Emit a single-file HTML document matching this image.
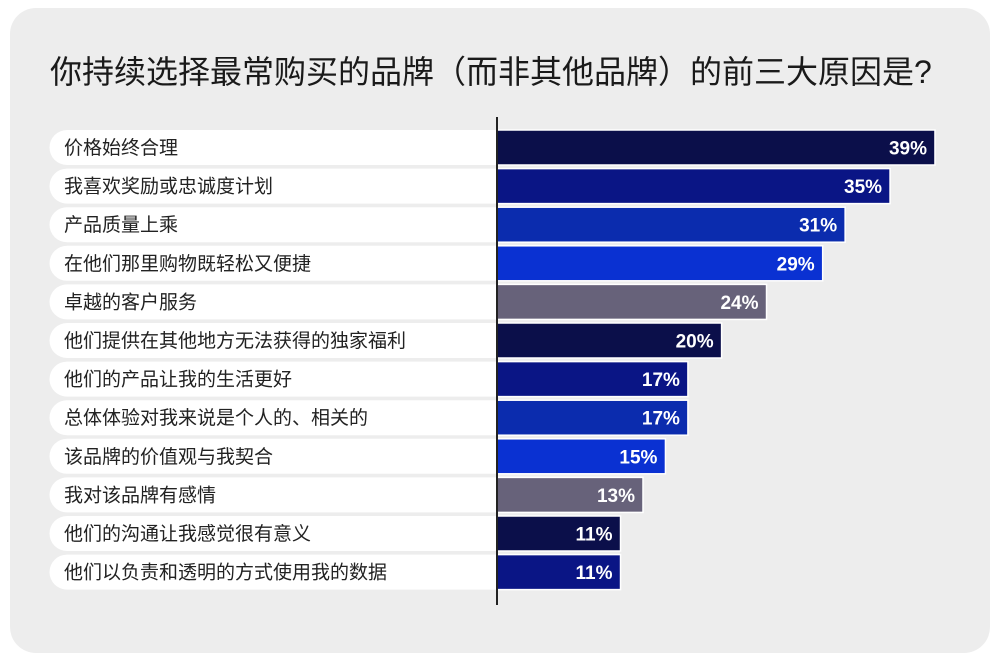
<!DOCTYPE html>
<html><head><meta charset="utf-8"><style>
body{margin:0;width:1000px;height:660px;background:#fff;font-family:"Liberation Sans","Noto Sans CJK SC",sans-serif;overflow:hidden}
#card{position:absolute;left:10px;top:8px;width:980px;height:645px;background:#ededed;border-radius:26px}
#title{position:absolute;left:50px;top:52px;font-size:32px;line-height:40px;color:#1a1a1a;white-space:nowrap}
svg{position:absolute;left:0;top:0}
</style></head><body>
<div id="card"></div>
<div id="title">你持续选择最常购买的品牌（而非其他品牌）的前三大原因是?</div>
<svg id="chart" width="1000" height="660"></svg>
<script>
const categories=["价格始终合理","我喜欢奖励或忠诚度计划","产品质量上乘","在他们那里购物既轻松又便捷","卓越的客户服务","他们提供在其他地方无法获得的独家福利","他们的产品让我的生活更好","总体体验对我来说是个人的、相关的","该品牌的价值观与我契合","我对该品牌有感情","他们的沟通让我感觉很有意义","他们以负责和透明的方式使用我的数据"];
const values=[39,35,31,29,24,20,17,17,15,13,11,11];
const valueLabels=["39%","35%","31%","29%","24%","20%","17%","17%","15%","13%","11%","11%"];
const palette=["#0b0f4a","#0a1585","#0b2cae","#0a31d2","#67627a"];
const NS="http://www.w3.org/2000/svg";
const svg=document.getElementById('chart');
const x0=497,pxPer=11.23,y0=130,pitch=38.6,h=35;
const xs=v=>x0+v*pxPer;
const ys=i=>y0+i*pitch;
function mk(t,a){const e=document.createElementNS(NS,t);for(const k in a)e.setAttribute(k,a[k]);svg.appendChild(e);return e;}
categories.forEach((c,i)=>{
  const y=ys(i);
  const p=mk('path',{d:`M${x0},${y} L${50+17},${y} A17.5,17.5 0 0 0 ${50+17},${y+h} L${x0},${y+h} Z`,fill:'#fff'});
  
  
  const t=mk('text',{x:64,y:y+h/2+6.5,'font-size':19,fill:'#222'});
  t.textContent=c;
  
  
  const b=mk('rect',{x:x0,y:y,width:xs(values[i])-x0,height:h,fill:palette[i%5],stroke:'#fff','stroke-width':1.5});
  
  
  const v=mk('text',{x:xs(values[i])-8,y:y+h/2+7,'font-size':19,'font-weight':'bold',fill:'#fff','text-anchor':'end'});
  v.textContent=valueLabels[i];
  
  
});
const ax=mk('line',{x1:x0,x2:x0,y1:117,y2:605,stroke:'#222','stroke-width':2});


</script>
</body></html>
